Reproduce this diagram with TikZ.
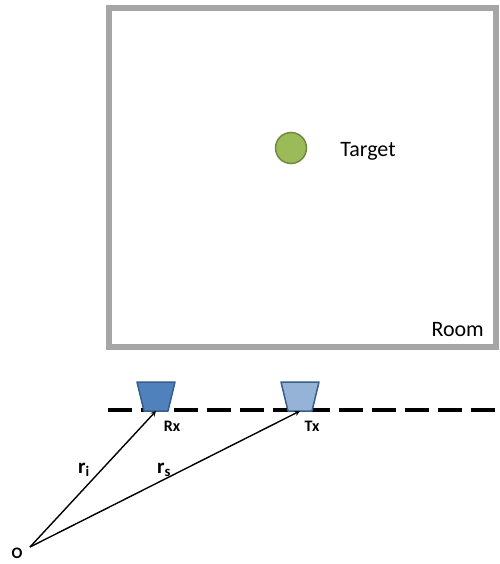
\documentclass[tikz,border=0pt]{standalone}
\usepackage{fontspec}
\setmainfont{Carlito}
\usepackage{tikz}
\usetikzlibrary{arrows,shapes,positioning}
\definecolor{roomgray}{RGB}{166,166,166}
\definecolor{tgtgreen}{RGB}{155,187,89}
\definecolor{tgtborder}{RGB}{113,137,63}
\definecolor{rxblue}{RGB}{79,129,189}
\definecolor{txblue}{RGB}{149,179,215}
\definecolor{antborder}{RGB}{56,93,138}
\tikzstyle{vec} = [line width=1.4pt,->,>=stealth]
\tikzstyle{roombox} = [rectangle, draw=roomgray, line width=6pt, minimum width=387pt, minimum height=339pt, inner sep=0pt]
\tikzstyle{antenna} = [draw=antborder, line width=1.5pt, line join=round]
\tikzstyle{lbl} = [font=\fontsize{16}{18}\selectfont\bfseries, inner sep=0pt]
\tikzstyle{big} = [font=\fontsize{22}{24}\selectfont, inner sep=0pt]

\begin{document}
\begin{tikzpicture}[x=1pt, y=-1pt]
\useasboundingbox (0,0) rectangle (499,564);
% Room and target
\node (room) [roombox] at (302.5,177.5) {};
\node [big, anchor=south east] at (484,337) {Room};
\node (target) [circle, minimum size=31pt, inner sep=0pt, fill=tgtgreen, draw=tgtborder, line width=1.5pt] at (291,148) {};
\node [big] at (368,151) {Target};

% Array line
\coordinate (lineL) at (108,410);
\coordinate (lineR) at (499,410);
\draw[line width=4pt, dash pattern=on 24pt off 9pt] (lineL) -- (lineR);

% Antennas
\coordinate (rx) at (156,411);
\coordinate (tx) at (300,411);
\draw[antenna, fill=rxblue] (rx) ++(-12,0) -- ++(24,0) -- ++(7,-29) -- ++(-38,0) -- cycle;
\draw[antenna, fill=txblue] (tx) ++(-12,0) -- ++(24,0) -- ++(7,-29) -- ++(-38,0) -- cycle;
\node [lbl] at (172,426) {Rx};
\node [lbl] at (312,426) {Tx};

% Position vectors
\node (origin) [font=\fontsize{16}{18}\selectfont\bfseries, inner sep=0pt] at (17,553) {O};
\coordinate (o) at (30,547);
\draw[vec] (o) -- (rx);
\draw[vec] (o) -- (tx);
\node [font=\fontsize{21}{24}\selectfont\bfseries, inner sep=0pt] at (84,470) {r$_{\mathbf{i}}$};
\node [font=\fontsize{21}{24}\selectfont\bfseries, inner sep=0pt] at (164,470) {r$_{\mathbf{s}}$};
\end{tikzpicture}
\end{document}
